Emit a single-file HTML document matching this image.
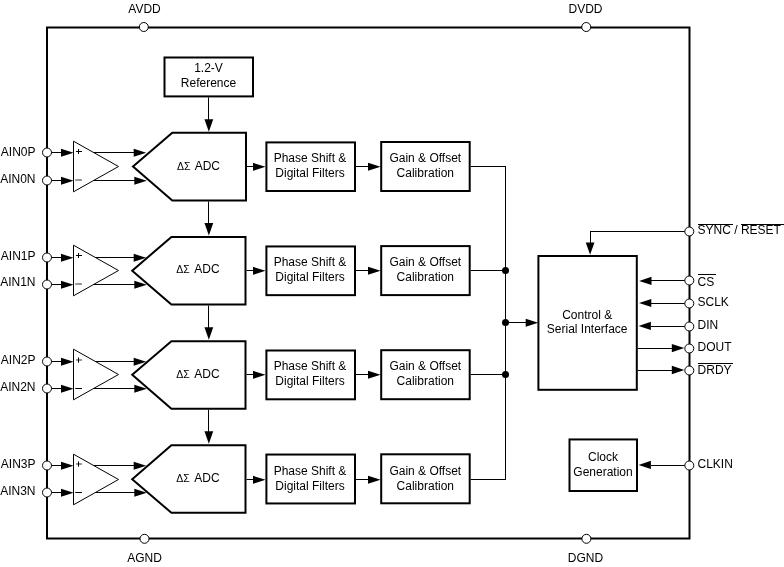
<!DOCTYPE html>
<html><head><meta charset="utf-8"><style>
html,body{margin:0;padding:0;background:#fff;width:784px;height:567px;overflow:hidden}
svg{display:block;filter:grayscale(1)}
text{font-family:"Liberation Sans",sans-serif;fill:#000}
</style></head><body>
<svg width="784" height="567" viewBox="0 0 784 567">
<rect width="784" height="567" fill="#fff"/>
<rect x="47" y="27.5" width="642.5" height="511" fill="none" stroke="#000" stroke-width="2"/>
<rect x="164.5" y="57.5" width="88.5" height="38.9" fill="none" stroke="#000" stroke-width="2"/>
<text x="208.5" y="72.1" text-anchor="middle" font-size="12">1.2-V</text>
<text x="208.5" y="86.9" text-anchor="middle" font-size="12">Reference</text>
<line x1="208.5" y1="97.4" x2="208.5" y2="122" stroke="#000" stroke-width="1"/>
<polygon points="208.85,131.8 204.45,119.3 213.25,119.3" fill="#000"/>
<text x="35.5" y="156" text-anchor="end" font-size="12">AIN0P</text>
<text x="35.5" y="183.4" text-anchor="end" font-size="12">AIN0N</text>
<line x1="47" y1="152.5" x2="62" y2="152.5" stroke="#000" stroke-width="1"/>
<polygon points="73.5,152.85 61,148.85 61,156.85" fill="#000"/>
<line x1="47" y1="180.5" x2="62" y2="180.5" stroke="#000" stroke-width="1"/>
<polygon points="73.5,180.85 61,176.85 61,184.85" fill="#000"/>
<circle cx="47" cy="152.5" r="4.5" fill="#fff" stroke="#000" stroke-width="1"/>
<circle cx="47" cy="180.5" r="4.5" fill="#fff" stroke="#000" stroke-width="1"/>
<polygon points="73.5,141.2 118.5,166.5 73.5,191.8" fill="none" stroke="#000" stroke-width="1"/>
<path d="M76 151.5 h6" stroke="#000" stroke-width="1"/>
<path d="M78.5 149 v5" stroke="#000" stroke-width="1"/>
<path d="M75.2 180 h6.8" stroke="#999" stroke-width="2"/>
<line x1="93.6" y1="152.5" x2="136" y2="152.5" stroke="#000" stroke-width="1"/>
<line x1="93.6" y1="180.5" x2="136" y2="180.5" stroke="#000" stroke-width="1"/>
<polygon points="146.2,152.85 133.7,148.85 133.7,156.85" fill="#000"/>
<polygon points="146.8,180.85 134.3,176.85 134.3,184.85" fill="#000"/>
<polygon points="172.3,132.80 246,132.80 246,200.50 172.3,200.50 133,166.57" fill="none" stroke="#000" stroke-width="2" stroke-linejoin="miter"/>
<text x="177" y="169.5" font-size="10.5">&#916;&#931;</text>
<text x="194.7" y="169.5" font-size="12">ADC</text>
<line x1="247" y1="166.5" x2="256" y2="166.5" stroke="#000" stroke-width="1"/>
<polygon points="265.5,166.85 253,162.85 253,170.85" fill="#000"/>
<rect x="266.4" y="142.4" width="88.6" height="48.6" fill="none" stroke="#000" stroke-width="2"/>
<text x="310" y="162.2" text-anchor="middle" font-size="12">Phase Shift &amp;</text>
<text x="310" y="176.6" text-anchor="middle" font-size="12">Digital Filters</text>
<line x1="356" y1="166.5" x2="370" y2="166.5" stroke="#000" stroke-width="1"/>
<polygon points="380.5,166.85 368,162.85 368,170.85" fill="#000"/>
<rect x="381.2" y="142" width="88.5" height="49" fill="none" stroke="#000" stroke-width="2"/>
<text x="425.3" y="162" text-anchor="middle" font-size="12">Gain &amp; Offset</text>
<text x="425.3" y="176.6" text-anchor="middle" font-size="12">Calibration</text>
<line x1="470.7" y1="166.5" x2="506" y2="166.5" stroke="#000" stroke-width="1"/>
<line x1="208.5" y1="201.5" x2="208.5" y2="224.97" stroke="#000" stroke-width="1"/>
<polygon points="208.85,235.47 204.45,222.97 213.25,222.97" fill="#000"/>
<text x="35.5" y="259.6" text-anchor="end" font-size="12">AIN1P</text>
<text x="35.5" y="286.4" text-anchor="end" font-size="12">AIN1N</text>
<line x1="47" y1="257.5" x2="62" y2="257.5" stroke="#000" stroke-width="1"/>
<polygon points="73.5,257.85 61,253.85 61,261.85" fill="#000"/>
<line x1="47" y1="284.5" x2="62" y2="284.5" stroke="#000" stroke-width="1"/>
<polygon points="73.5,284.85 61,280.85 61,288.85" fill="#000"/>
<circle cx="47" cy="257.5" r="4.5" fill="#fff" stroke="#000" stroke-width="1"/>
<circle cx="47" cy="284.5" r="4.5" fill="#fff" stroke="#000" stroke-width="1"/>
<polygon points="73.5,245.2 118.5,270.5 73.5,295.8" fill="none" stroke="#000" stroke-width="1"/>
<path d="M76 255.5 h6" stroke="#000" stroke-width="1"/>
<path d="M78.5 253 v5" stroke="#000" stroke-width="1"/>
<path d="M75.2 284 h6.8" stroke="#999" stroke-width="2"/>
<line x1="95.38" y1="257.5" x2="136" y2="257.5" stroke="#000" stroke-width="1"/>
<line x1="93.6" y1="284.5" x2="136" y2="284.5" stroke="#000" stroke-width="1"/>
<polygon points="146.2,257.85 133.7,253.85 133.7,261.85" fill="#000"/>
<polygon points="146.8,284.85 134.3,280.85 134.3,288.85" fill="#000"/>
<polygon points="171.4,236.97 245.5,236.97 245.5,304.60 171.4,304.60 132.2,270.64" fill="none" stroke="#000" stroke-width="2" stroke-linejoin="miter"/>
<text x="176.3" y="273.4" font-size="10.5">&#916;&#931;</text>
<text x="194.3" y="273.4" font-size="12">ADC</text>
<line x1="246.5" y1="270.5" x2="256" y2="270.5" stroke="#000" stroke-width="1"/>
<polygon points="265.5,270.85 253,266.85 253,274.85" fill="#000"/>
<rect x="266.4" y="246.45" width="88.6" height="48.7" fill="none" stroke="#000" stroke-width="2"/>
<text x="310" y="266.2" text-anchor="middle" font-size="12">Phase Shift &amp;</text>
<text x="310" y="280.6" text-anchor="middle" font-size="12">Digital Filters</text>
<line x1="356" y1="270.5" x2="370" y2="270.5" stroke="#000" stroke-width="1"/>
<polygon points="380.5,270.85 368,266.85 368,274.85" fill="#000"/>
<rect x="381.2" y="246.1" width="88.5" height="49" fill="none" stroke="#000" stroke-width="2"/>
<text x="425.3" y="266" text-anchor="middle" font-size="12">Gain &amp; Offset</text>
<text x="425.3" y="280.6" text-anchor="middle" font-size="12">Calibration</text>
<line x1="470.7" y1="270.5" x2="506" y2="270.5" stroke="#000" stroke-width="1"/>
<line x1="208.5" y1="305.6" x2="208.5" y2="329.14" stroke="#000" stroke-width="1"/>
<polygon points="208.85,339.64 204.45,327.14 213.25,327.14" fill="#000"/>
<text x="35.5" y="364.4" text-anchor="end" font-size="12">AIN2P</text>
<text x="35.5" y="391.3" text-anchor="end" font-size="12">AIN2N</text>
<line x1="47" y1="361.5" x2="62" y2="361.5" stroke="#000" stroke-width="1"/>
<polygon points="73.5,361.85 61,357.85 61,365.85" fill="#000"/>
<line x1="47" y1="388.5" x2="62" y2="388.5" stroke="#000" stroke-width="1"/>
<polygon points="73.5,388.85 61,384.85 61,392.85" fill="#000"/>
<circle cx="47" cy="361.5" r="4.5" fill="#fff" stroke="#000" stroke-width="1"/>
<circle cx="47" cy="388.5" r="4.5" fill="#fff" stroke="#000" stroke-width="1"/>
<polygon points="73.5,349.2 118.5,374.5 73.5,399.8" fill="none" stroke="#000" stroke-width="1"/>
<path d="M76 360 h6" stroke="#999" stroke-width="2"/>
<path d="M78.5 357.5 v5.2" stroke="#000" stroke-width="1"/>
<path d="M75.2 388.5 h6.8" stroke="#000" stroke-width="1"/>
<line x1="95.38" y1="361.5" x2="136" y2="361.5" stroke="#000" stroke-width="1"/>
<line x1="93.6" y1="388.5" x2="136" y2="388.5" stroke="#000" stroke-width="1"/>
<polygon points="146.2,361.85 133.7,357.85 133.7,365.85" fill="#000"/>
<polygon points="146.8,388.85 134.3,384.85 134.3,392.85" fill="#000"/>
<polygon points="171.4,341.14 245.5,341.14 245.5,408.70 171.4,408.70 132.2,374.71" fill="none" stroke="#000" stroke-width="2" stroke-linejoin="miter"/>
<text x="176.3" y="377.7" font-size="10.5">&#916;&#931;</text>
<text x="194.3" y="377.7" font-size="12">ADC</text>
<line x1="246.5" y1="374.5" x2="256" y2="374.5" stroke="#000" stroke-width="1"/>
<polygon points="265.5,374.85 253,370.85 253,378.85" fill="#000"/>
<rect x="266.4" y="350.5" width="88.6" height="48.8" fill="none" stroke="#000" stroke-width="2"/>
<text x="310" y="370.2" text-anchor="middle" font-size="12">Phase Shift &amp;</text>
<text x="310" y="384.6" text-anchor="middle" font-size="12">Digital Filters</text>
<line x1="356" y1="374.5" x2="370" y2="374.5" stroke="#000" stroke-width="1"/>
<polygon points="380.5,374.85 368,370.85 368,378.85" fill="#000"/>
<rect x="381.2" y="350.2" width="88.5" height="49" fill="none" stroke="#000" stroke-width="2"/>
<text x="425.3" y="370" text-anchor="middle" font-size="12">Gain &amp; Offset</text>
<text x="425.3" y="384.6" text-anchor="middle" font-size="12">Calibration</text>
<line x1="470.7" y1="374.5" x2="506" y2="374.5" stroke="#000" stroke-width="1"/>
<line x1="208.5" y1="409.7" x2="208.5" y2="433.31" stroke="#000" stroke-width="1"/>
<polygon points="208.85,443.81 204.45,431.31 213.25,431.31" fill="#000"/>
<text x="35.5" y="468.4" text-anchor="end" font-size="12">AIN3P</text>
<text x="35.5" y="495.3" text-anchor="end" font-size="12">AIN3N</text>
<line x1="47" y1="465.5" x2="62" y2="465.5" stroke="#000" stroke-width="1"/>
<polygon points="73.5,465.85 61,461.85 61,469.85" fill="#000"/>
<line x1="47" y1="492.5" x2="62" y2="492.5" stroke="#000" stroke-width="1"/>
<polygon points="73.5,492.85 61,488.85 61,496.85" fill="#000"/>
<circle cx="47" cy="465.5" r="4.5" fill="#fff" stroke="#000" stroke-width="1"/>
<circle cx="47" cy="492.5" r="4.5" fill="#fff" stroke="#000" stroke-width="1"/>
<polygon points="73.5,454.2 118.5,479.5 73.5,504.8" fill="none" stroke="#000" stroke-width="1"/>
<path d="M76 464 h6" stroke="#999" stroke-width="2"/>
<path d="M78.5 461.5 v5.2" stroke="#000" stroke-width="1"/>
<path d="M75.2 492.5 h6.8" stroke="#000" stroke-width="1"/>
<line x1="93.6" y1="465.5" x2="136" y2="465.5" stroke="#000" stroke-width="1"/>
<line x1="95.38" y1="492.5" x2="136" y2="492.5" stroke="#000" stroke-width="1"/>
<polygon points="146.2,465.85 133.7,461.85 133.7,469.85" fill="#000"/>
<polygon points="146.8,492.85 134.3,488.85 134.3,496.85" fill="#000"/>
<polygon points="171.4,445.31 245.5,445.31 245.5,512.80 171.4,512.80 132.2,479.28" fill="none" stroke="#000" stroke-width="2" stroke-linejoin="miter"/>
<text x="176.3" y="481.7" font-size="10.5">&#916;&#931;</text>
<text x="194.3" y="481.7" font-size="12">ADC</text>
<line x1="246.5" y1="479.5" x2="256" y2="479.5" stroke="#000" stroke-width="1"/>
<polygon points="265.5,479.85 253,475.85 253,483.85" fill="#000"/>
<rect x="266.4" y="454.55" width="88.6" height="48.9" fill="none" stroke="#000" stroke-width="2"/>
<text x="310" y="475.2" text-anchor="middle" font-size="12">Phase Shift &amp;</text>
<text x="310" y="489.6" text-anchor="middle" font-size="12">Digital Filters</text>
<line x1="356" y1="479.5" x2="370" y2="479.5" stroke="#000" stroke-width="1"/>
<polygon points="380.5,479.85 368,475.85 368,483.85" fill="#000"/>
<rect x="381.2" y="454.3" width="88.5" height="49" fill="none" stroke="#000" stroke-width="2"/>
<text x="425.3" y="475" text-anchor="middle" font-size="12">Gain &amp; Offset</text>
<text x="425.3" y="489.6" text-anchor="middle" font-size="12">Calibration</text>
<line x1="470.7" y1="479.5" x2="506" y2="479.5" stroke="#000" stroke-width="1"/>
<line x1="505.5" y1="166" x2="505.5" y2="480" stroke="#000" stroke-width="1"/>
<circle cx="505.5" cy="270.5" r="3.5" fill="#000"/>
<circle cx="505.5" cy="374.5" r="3.5" fill="#000"/>
<circle cx="505.5" cy="322.5" r="3.5" fill="#000"/>
<line x1="505.5" y1="322.5" x2="528" y2="322.5" stroke="#000" stroke-width="1"/>
<polygon points="538.2,322.85 525.7,318.85 525.7,326.85" fill="#000"/>
<rect x="538.4" y="256" width="98.4" height="133.8" fill="none" stroke="#000" stroke-width="2"/>
<text x="587.2" y="318.5" text-anchor="middle" font-size="12">Control &amp;</text>
<text x="587.2" y="333.3" text-anchor="middle" font-size="12">Serial Interface</text>
<line x1="689" y1="231.5" x2="590" y2="231.5" stroke="#000" stroke-width="1"/>
<line x1="590.5" y1="231" x2="590.5" y2="245" stroke="#000" stroke-width="1"/>
<polygon points="590.1,254.8 585.75,242.4 594.45,242.4" fill="#000"/>
<line x1="651" y1="280.5" x2="689" y2="280.5" stroke="#000" stroke-width="1"/>
<polygon points="639.2,280.9 651.5,276.8 651.5,285" fill="#000"/>
<line x1="651" y1="303.5" x2="689" y2="303.5" stroke="#000" stroke-width="1"/>
<polygon points="639,303 651.3,298.9 651.3,307.1" fill="#000"/>
<line x1="651" y1="326.5" x2="689" y2="326.5" stroke="#000" stroke-width="1"/>
<polygon points="638.6,325.95 650.9,321.85 650.9,330.05" fill="#000"/>
<line x1="637.8" y1="348.5" x2="673" y2="348.5" stroke="#000" stroke-width="1"/>
<polygon points="684.3,348.1 671.8,343.9 671.8,352.3" fill="#000"/>
<line x1="637.8" y1="370.5" x2="673" y2="370.5" stroke="#000" stroke-width="1"/>
<polygon points="684.3,370 671.8,365.8 671.8,374.2" fill="#000"/>
<rect x="569.5" y="439.45" width="67.5" height="51.55" fill="none" stroke="#000" stroke-width="2"/>
<text x="603" y="461" text-anchor="middle" font-size="12">Clock</text>
<text x="603" y="475.5" text-anchor="middle" font-size="12">Generation</text>
<line x1="651" y1="465.5" x2="689" y2="465.5" stroke="#000" stroke-width="1"/>
<polygon points="638.6,464.95 650.9,460.85 650.9,469.05" fill="#000"/>
<circle cx="143.8" cy="27" r="4.5" fill="#fff" stroke="#000" stroke-width="1"/>
<circle cx="586.25" cy="27" r="4.5" fill="#fff" stroke="#000" stroke-width="1"/>
<circle cx="144.5" cy="538.8" r="4.5" fill="#fff" stroke="#000" stroke-width="1"/>
<circle cx="586.4" cy="538.8" r="4.5" fill="#fff" stroke="#000" stroke-width="1"/>
<circle cx="689.3" cy="280.5" r="4.5" fill="#fff" stroke="#000" stroke-width="1"/>
<circle cx="689.3" cy="303.5" r="4.5" fill="#fff" stroke="#000" stroke-width="1"/>
<circle cx="689.3" cy="326.5" r="4.5" fill="#fff" stroke="#000" stroke-width="1"/>
<circle cx="689.3" cy="348.5" r="4.5" fill="#fff" stroke="#000" stroke-width="1"/>
<circle cx="689.3" cy="370.5" r="4.5" fill="#fff" stroke="#000" stroke-width="1"/>
<circle cx="689.3" cy="231.5" r="4.5" fill="#fff" stroke="#000" stroke-width="1"/>
<circle cx="689.3" cy="465.5" r="4.5" fill="#fff" stroke="#000" stroke-width="1"/>
<text x="144.5" y="12.5" text-anchor="middle" font-size="12">AVDD</text>
<text x="585.5" y="12.5" text-anchor="middle" font-size="12">DVDD</text>
<text x="144.5" y="562" text-anchor="middle" font-size="12">AGND</text>
<text x="585.5" y="562" text-anchor="middle" font-size="12">DGND</text>
<text x="697.6" y="234.2" text-anchor="start" font-size="12">SYNC / RESET</text>
<line x1="698" y1="224.5" x2="733" y2="224.5" stroke="#000" stroke-width="1"/>
<line x1="741" y1="224.5" x2="784" y2="224.5" stroke="#000" stroke-width="1"/>
<text x="697.6" y="285.6" text-anchor="start" font-size="12">CS</text>
<line x1="698" y1="274.5" x2="716" y2="274.5" stroke="#000" stroke-width="1"/>
<text x="697.6" y="374.3" text-anchor="start" font-size="12">DRDY</text>
<line x1="698" y1="363.5" x2="733" y2="363.5" stroke="#000" stroke-width="1"/>
<text x="697.5" y="305.9" text-anchor="start" font-size="12">SCLK</text>
<text x="697.5" y="328.7" text-anchor="start" font-size="12">DIN</text>
<text x="697.5" y="351.1" text-anchor="start" font-size="12">DOUT</text>
<text x="697.5" y="467.8" text-anchor="start" font-size="12">CLKIN</text>
</svg>
</body></html>
